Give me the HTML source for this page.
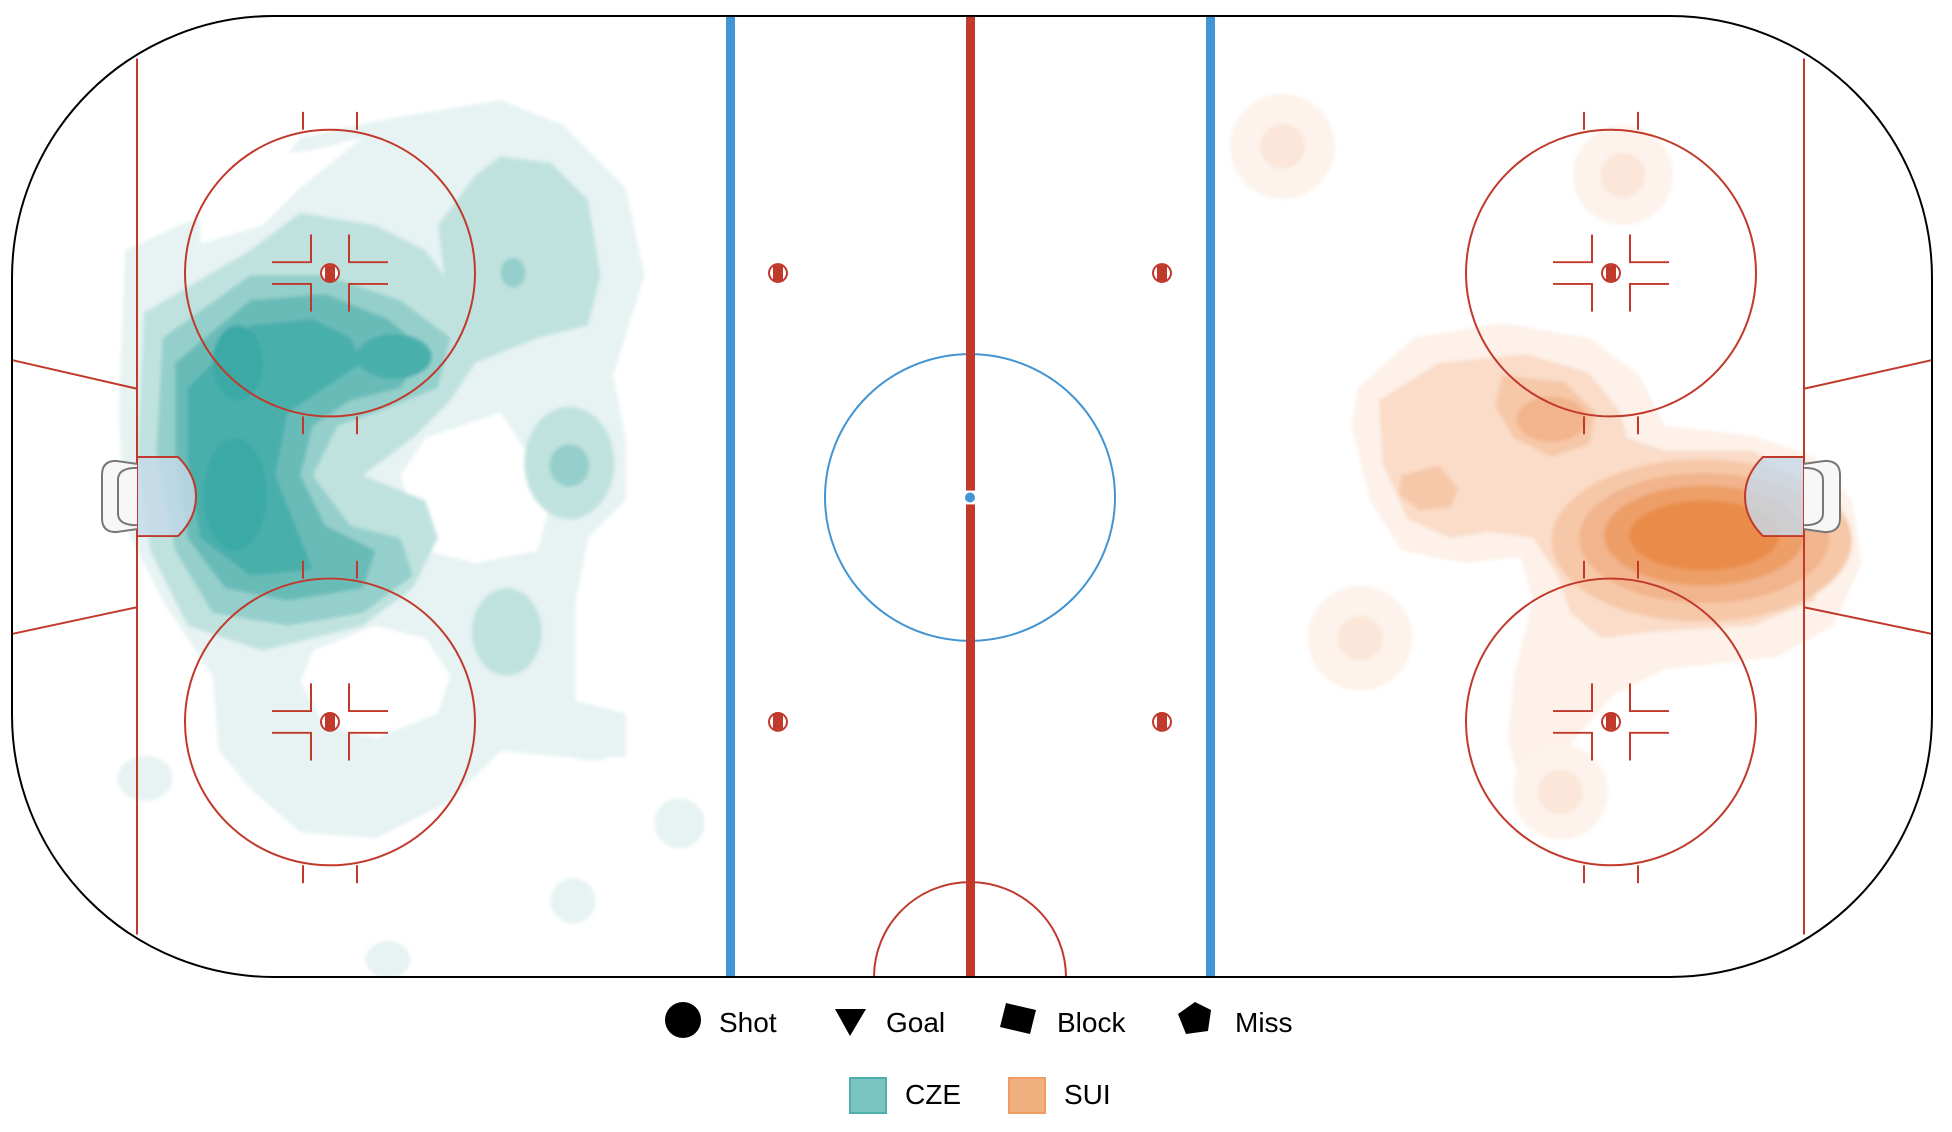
<!DOCTYPE html>
<html><head><meta charset="utf-8"><style>
html,body{margin:0;padding:0;background:#fff;}
svg{display:block}
text{font-family:"Liberation Sans","DejaVu Sans",sans-serif;font-size:28px;fill:#000}
</style></head><body>
<svg width="1952" height="1132" viewBox="0 0 1952 1132" xmlns="http://www.w3.org/2000/svg">
<defs>
<filter id="b" x="-10%" y="-10%" width="120%" height="120%"><feGaussianBlur stdDeviation="1.5"/></filter>
<clipPath id="rk"><rect x="12" y="16" width="1920" height="961" rx="262" ry="262"/></clipPath>
</defs>
<rect x="12" y="16" width="1920" height="961" rx="262" ry="262" fill="#fff"/>
<g clip-path="url(#rk)">
<g transform="scale(1.2513)" filter="url(#b)">
<path fill="#e6f3f2" d="M100,200 L210,150 L240,110 L310,95 L400,80 L450,100 L500,150 L515,220 L490,300 L500,350 L500,400 L470,430 L460,480 L460,560 L500,570 L500,605 L450,605 L400,600 L360,640 L300,670 L240,665 L200,630 L175,600 L170,540 L130,480 L100,420 L95,330 Z"/>
<path fill="#fff" d="M160,130 L210,125 L250,120 L290,110 L240,150 L210,180 L160,195 Z"/>
<path fill="#fff" d="M340,350 L400,330 L420,360 L440,400 L430,440 L380,450 L340,440 L320,380 Z"/>
<path fill="#fff" d="M250,520 L300,500 L340,510 L360,540 L350,570 L300,590 L260,580 L240,545 Z"/>
<path fill="#c0e2df" d="M115,250 L200,200 L240,170 L300,180 L340,200 L355,220 L350,180 L380,140 L400,125 L440,130 L470,160 L480,220 L470,260 L430,270 L380,290 L360,320 L330,350 L290,380 L340,400 L350,430 L330,470 L290,500 L250,510 L210,520 L150,500 L120,440 L110,360 Z"/>
<path fill="#94cfcb" d="M130,270 L200,220 L260,220 L320,240 L360,270 L350,310 L300,330 L270,340 L250,380 L280,420 L320,430 L330,460 L290,490 L230,500 L170,490 L140,440 L125,360 Z"/>
<path fill="#69bbb8" d="M140,290 L200,240 L260,235 L310,255 L340,280 L320,310 L280,320 L250,340 L240,380 L260,420 L300,440 L290,470 L230,480 L180,470 L150,430 L140,360 Z"/>
<path fill="#4aafab" d="M150,310 L200,260 L250,255 L280,270 L290,290 L260,310 L230,330 L220,380 L240,430 L250,455 L200,460 L160,430 L150,370 Z"/>
<ellipse cx="315" cy="285" rx="30" ry="18" fill="#4aafab"/>
<ellipse cx="190" cy="290" rx="20" ry="30" fill="#3aa9a6"/>
<ellipse cx="188" cy="395" rx="25" ry="45" fill="#3aa9a6"/>
<ellipse cx="455" cy="370" rx="36" ry="45" fill="#c0e2df"/>
<ellipse cx="455" cy="372" rx="16" ry="17" fill="#94cfcb"/>
<ellipse cx="410" cy="218" rx="10" ry="12" fill="#94cfcb"/>
<ellipse cx="405" cy="505" rx="28" ry="35" fill="#c0e2df"/>
<ellipse cx="116" cy="622" rx="22" ry="18" fill="#e6f3f2"/>
<ellipse cx="543" cy="658" rx="20" ry="20" fill="#e6f3f2"/>
<ellipse cx="458" cy="720" rx="18" ry="18" fill="#e6f3f2"/>
<ellipse cx="310" cy="767" rx="18" ry="15" fill="#e6f3f2"/>
<ellipse cx="472" cy="588" rx="28" ry="20" fill="#e6f3f2"/>
<path fill="#fdf1e9" d="M1085,310 L1130,270 L1200,258 L1270,270 L1310,300 L1330,340 L1400,348 L1450,365 L1480,400 L1488,450 L1465,500 L1420,525 L1330,535 L1290,555 L1250,600 L1218,640 L1205,590 L1210,540 L1225,480 L1215,445 L1170,450 L1120,440 L1095,400 L1080,340 Z"/>
<path fill="#fadcc8" d="M1102,320 L1150,290 L1220,283 L1270,298 L1295,330 L1300,350 L1330,360 L1400,360 L1445,385 L1465,430 L1450,480 L1400,500 L1320,505 L1280,510 L1255,490 L1245,460 L1225,430 L1190,425 L1160,430 L1125,415 L1105,370 Z"/>
<path fill="#f6c8a8" d="M1200,300 L1250,305 L1275,330 L1270,355 L1240,365 L1210,350 L1195,325 Z"/>
<path fill="#f6c8a8" d="M1120,380 L1150,372 L1165,390 L1160,405 L1135,408 L1118,395 Z"/>
<ellipse cx="1240" cy="335" rx="28" ry="18" fill="#f2b48c"/>
<ellipse cx="1360" cy="432" rx="120" ry="65" fill="#f6c8a8"/>
<ellipse cx="1362" cy="430" rx="100" ry="52" fill="#f2b48c"/>
<ellipse cx="1362" cy="428" rx="80" ry="40" fill="#ee9f68"/>
<ellipse cx="1362" cy="428" rx="60" ry="28" fill="#e98c48"/>
<circle cx="1025" cy="117" r="42" fill="#fdf3ec"/><circle cx="1025" cy="117" r="18" fill="#fbe6d9"/>
<circle cx="1297" cy="140" r="40" fill="#fdf3ec"/><circle cx="1297" cy="140" r="18" fill="#fbe6d9"/>
<circle cx="1087" cy="510" r="42" fill="#fdf3ec"/><circle cx="1087" cy="510" r="18" fill="#fbe6d9"/>
<circle cx="1247" cy="633" r="38" fill="#fdf3ec"/><circle cx="1247" cy="633" r="18" fill="#fbe6d9"/>
</g>
</g>
<g transform="matrix(1,0,0,0.9887,0,0.18)">
<g fill="none" stroke="#c0392b" stroke-width="2">
<line x1="137" y1="59" x2="137" y2="945"/>
<line x1="1804" y1="59" x2="1804" y2="945"/>
<line x1="12" y1="364" x2="137" y2="393"/>
<line x1="12" y1="641" x2="137" y2="614"/>
<line x1="1932" y1="364" x2="1804" y2="393"/>
<line x1="1932" y1="641" x2="1804" y2="614"/>
<circle cx="330" cy="276" r="145"/>
<circle cx="330" cy="730" r="145"/>
<circle cx="1611" cy="276" r="145"/>
<circle cx="1611" cy="730" r="145"/>
<path d="M874,988 A96,96 0 0 1 1066,988"/>
</g>
<g stroke="#c0392b" stroke-width="2" fill="none">
<path id="fo" d="M303,113 v18 M357,113 v18 M303,421 v18 M357,421 v18 M272,265 h39 v-28 M272,287 h39 v28 M388,265 h-39 v-28 M388,287 h-39 v28"/>
<use href="#fo" transform="translate(0,454)"/>
<use href="#fo" transform="translate(1281,0)"/>
<use href="#fo" transform="translate(1281,454)"/>
</g>
<g fill="#c0392b" stroke="#c0392b" stroke-width="2">
<g id="sp"><ellipse cx="330" cy="276" rx="9" ry="9" fill="#fff"/><rect x="325" y="268" width="10" height="16" stroke="none"/></g>
<use href="#sp" transform="translate(0,454)"/>
<use href="#sp" transform="translate(1281,0)"/>
<use href="#sp" transform="translate(1281,454)"/>
<use href="#sp" transform="translate(448,0)"/>
<use href="#sp" transform="translate(448,454)"/>
<use href="#sp" transform="translate(832,0)"/>
<use href="#sp" transform="translate(832,454)"/>
</g>
<path d="M137,462 H178 Q196,480 196,502 Q196,524 178,542 H137 Z" fill="#c6d9ea" fill-opacity="0.8" stroke="#c0392b" stroke-width="2"/>
<path d="M1804,462 H1763 Q1745,480 1745,502 Q1745,524 1763,542 H1804 Z" fill="#c6d9ea" fill-opacity="0.8" stroke="#c0392b" stroke-width="2"/>
<path d="M137,469 L116,466 Q102,466 102,480 V524 Q102,538 116,538 L137,535" fill="#f7f7f7" stroke="#777" stroke-width="2"/>
<path d="M137,473 Q118,473 118,485 V519 Q118,531 137,531" fill="none" stroke="#777" stroke-width="2"/>
<path d="M1804,469 L1825,466 Q1840,466 1840,480 V524 Q1840,538 1825,538 L1804,535" fill="#f7f7f7" stroke="#777" stroke-width="2"/>
<path d="M1804,473 Q1823,473 1823,485 V519 Q1823,531 1804,531" fill="none" stroke="#777" stroke-width="2"/>
<rect x="726" y="16" width="9" height="972" fill="#4394d2"/>
<rect x="1206" y="16" width="9" height="972" fill="#4394d2"/>
<circle cx="970" cy="503" r="145" fill="none" stroke="#4394d2" stroke-width="2"/>
<rect x="966" y="16" width="9" height="480" fill="#c0392b"/>
<rect x="966" y="510" width="9" height="478" fill="#c0392b"/>
<circle cx="970" cy="503" r="5" fill="#4394d2"/>
</g>
<rect x="12" y="16" width="1920" height="961" rx="262" ry="262" fill="none" stroke="#000" stroke-width="2"/>
<circle cx="683" cy="1020" r="18" fill="#000"/>
<text x="719" y="1032">Shot</text>
<polygon points="835,1009 866,1009 850,1036" fill="#000"/>
<text x="886" y="1032">Goal</text>
<polygon points="1006,1003 1036,1010 1030,1034 1000,1027" fill="#000"/>
<text x="1057" y="1032">Block</text>
<polygon points="1195,1002 1211,1010 1208,1031 1186,1034 1178,1014" fill="#000"/>
<text x="1235" y="1032">Miss</text>
<rect x="850" y="1078" width="36" height="35" fill="#7ac4c1" stroke="#4fb0ab" stroke-width="2"/>
<text x="905" y="1104">CZE</text>
<rect x="1009" y="1078" width="36" height="35" fill="#f1b080" stroke="#ef9d62" stroke-width="2"/>
<text x="1064" y="1104">SUI</text>
</svg>
</body></html>
